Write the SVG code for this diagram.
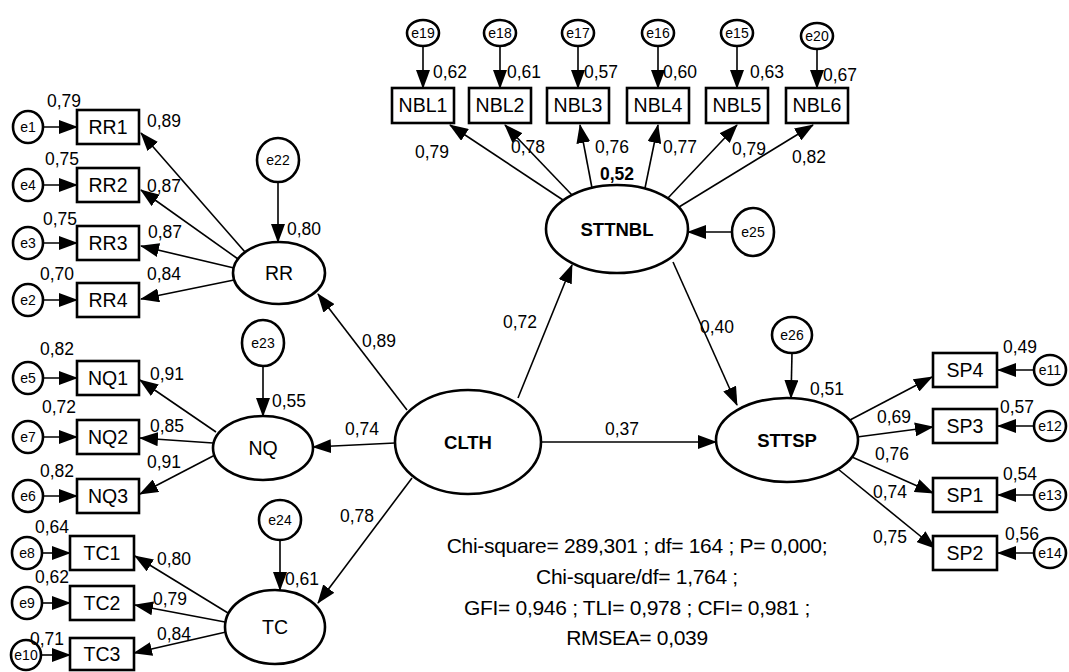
<svg xmlns="http://www.w3.org/2000/svg" width="1069" height="672" viewBox="0 0 1069 672">
<style>
text{font-family:"Liberation Sans",Arial,sans-serif;fill:#000}
.lb{font-size:17.5px}
.bx{font-size:19.5px;text-anchor:middle}
.ev{font-size:14px;text-anchor:middle}
.lv{font-size:19.5px;text-anchor:middle}
.lvb{font-size:18.5px;font-weight:bold;text-anchor:middle}
.st{font-size:21px;text-anchor:middle;letter-spacing:-0.3px}
rect{fill:#fff;stroke:#000;stroke-width:2.6}
ellipse{fill:#fff;stroke:#000;stroke-width:2.6}
.c line{stroke:#000;stroke-width:1.6;marker-end:url(#ah)}
</style>
<defs>
<marker id="ah" markerWidth="19" markerHeight="14" refX="18" refY="7" orient="auto" markerUnits="userSpaceOnUse"><path d="M0,0 L19,7 L0,14 z" fill="#000"/></marker>
</defs>
<rect x="0" y="0" width="1069" height="672" style="stroke:none;fill:#fff"/>
<g class="c" id="connectors">
<line x1="43" y1="127" x2="77" y2="127"/>
<line x1="43" y1="185" x2="77" y2="185"/>
<line x1="43" y1="243" x2="77" y2="243"/>
<line x1="43" y1="300" x2="77" y2="300"/>
<line x1="43" y1="378" x2="77" y2="378"/>
<line x1="43" y1="437" x2="77" y2="437"/>
<line x1="43" y1="496" x2="77" y2="496"/>
<line x1="42" y1="553" x2="70" y2="553"/>
<line x1="42" y1="603" x2="70" y2="603"/>
<line x1="42" y1="655" x2="70" y2="655"/>
<line x1="245" y1="252" x2="141" y2="133"/>
<line x1="238" y1="259" x2="141" y2="190"/>
<line x1="234" y1="268" x2="141" y2="246"/>
<line x1="234" y1="280" x2="141" y2="299"/>
<line x1="216" y1="432" x2="140" y2="380"/>
<line x1="213" y1="443" x2="140" y2="438"/>
<line x1="215" y1="455" x2="140" y2="494"/>
<line x1="228" y1="613" x2="135" y2="556"/>
<line x1="225" y1="622" x2="135" y2="605"/>
<line x1="226" y1="632" x2="134" y2="653"/>
<line x1="278" y1="182" x2="278" y2="242"/>
<line x1="263" y1="366" x2="263" y2="416"/>
<line x1="280" y1="540" x2="280" y2="590"/>
<line x1="407" y1="410" x2="318" y2="294"/>
<line x1="395" y1="443" x2="313" y2="447"/>
<line x1="412" y1="478" x2="318" y2="603"/>
<line x1="518" y1="398" x2="572" y2="265"/>
<line x1="541" y1="442" x2="716" y2="442"/>
<line x1="673" y1="262" x2="737" y2="405"/>
<line x1="732" y1="232" x2="688" y2="232"/>
<line x1="792" y1="353" x2="791" y2="398"/>
<line x1="563" y1="200" x2="450" y2="125"/>
<line x1="572" y1="195" x2="505" y2="125"/>
<line x1="592" y1="188" x2="580" y2="125"/>
<line x1="645" y1="188" x2="658" y2="125"/>
<line x1="668" y1="198" x2="737" y2="125"/>
<line x1="679" y1="207" x2="813" y2="125"/>
<line x1="423" y1="46" x2="423" y2="88"/>
<line x1="500" y1="46" x2="500" y2="88"/>
<line x1="578" y1="46" x2="578" y2="88"/>
<line x1="658" y1="46" x2="658" y2="88"/>
<line x1="737" y1="46" x2="737" y2="88"/>
<line x1="817" y1="49" x2="817" y2="88"/>
<line x1="850" y1="420" x2="932" y2="377"/>
<line x1="857" y1="437" x2="933" y2="427"/>
<line x1="852" y1="457" x2="933" y2="493"/>
<line x1="838" y1="469" x2="935" y2="548"/>
<line x1="1034" y1="370" x2="998" y2="370"/>
<line x1="1034" y1="426" x2="998" y2="426"/>
<line x1="1034" y1="495" x2="998" y2="495"/>
<line x1="1034" y1="553" x2="998" y2="553"/>
</g>
<g id="RR1"><rect x="77" y="110" width="62" height="34"/><text class="bx" x="108" y="134">RR1</text></g>
<g id="RR2"><rect x="77" y="168" width="62" height="34"/><text class="bx" x="108" y="192">RR2</text></g>
<g id="RR3"><rect x="77" y="226" width="62" height="34"/><text class="bx" x="108" y="250">RR3</text></g>
<g id="RR4"><rect x="77" y="283" width="62" height="34"/><text class="bx" x="108" y="307">RR4</text></g>
<g id="NQ1"><rect x="77" y="361" width="62" height="34"/><text class="bx" x="108" y="385">NQ1</text></g>
<g id="NQ2"><rect x="77" y="420" width="62" height="34"/><text class="bx" x="108" y="444">NQ2</text></g>
<g id="NQ3"><rect x="77" y="479" width="62" height="34"/><text class="bx" x="108" y="503">NQ3</text></g>
<g id="TC1"><rect x="70" y="536" width="64" height="34"/><text class="bx" x="102" y="560">TC1</text></g>
<g id="TC2"><rect x="70" y="586" width="64" height="34"/><text class="bx" x="102" y="610">TC2</text></g>
<g id="TC3"><rect x="70" y="638" width="64" height="32"/><text class="bx" x="102" y="661">TC3</text></g>
<g id="e1"><ellipse cx="28" cy="127" rx="15" ry="16"/><text class="ev" x="28" y="132">e1</text></g>
<g id="e4"><ellipse cx="28" cy="185" rx="15" ry="16"/><text class="ev" x="28" y="190">e4</text></g>
<g id="e3"><ellipse cx="28" cy="243" rx="15" ry="16"/><text class="ev" x="28" y="248">e3</text></g>
<g id="e2"><ellipse cx="28" cy="300" rx="15" ry="16"/><text class="ev" x="28" y="305">e2</text></g>
<g id="e5"><ellipse cx="28" cy="378" rx="15" ry="16"/><text class="ev" x="28" y="383">e5</text></g>
<g id="e7"><ellipse cx="28" cy="437" rx="15" ry="16"/><text class="ev" x="28" y="442">e7</text></g>
<g id="e6"><ellipse cx="28" cy="496" rx="15" ry="16"/><text class="ev" x="28" y="501">e6</text></g>
<g id="e8"><ellipse cx="27" cy="553" rx="15" ry="16"/><text class="ev" x="27" y="558">e8</text></g>
<g id="e9"><ellipse cx="27" cy="603" rx="15" ry="16"/><text class="ev" x="27" y="608">e9</text></g>
<g id="e10"><ellipse cx="26" cy="655" rx="15" ry="15"/><text class="ev" x="26" y="660">e10</text></g>
<g id="RR"><ellipse cx="279" cy="273" rx="46" ry="31"/><text class="lv" x="279" y="280">RR</text></g>
<g id="NQ"><ellipse cx="263" cy="448" rx="50" ry="32"/><text class="lv" x="263" y="455">NQ</text></g>
<g id="TC"><ellipse cx="275" cy="627" rx="50" ry="37"/><text class="lv" x="275" y="634">TC</text></g>
<g id="e22"><ellipse cx="278" cy="160" rx="21" ry="22"/><text class="ev" x="278" y="165">e22</text></g>
<g id="e23"><ellipse cx="263" cy="343" rx="21" ry="23"/><text class="ev" x="263" y="348">e23</text></g>
<g id="e24"><ellipse cx="280" cy="520" rx="21" ry="20"/><text class="ev" x="280" y="525">e24</text></g>
<g id="CLTH"><ellipse cx="468" cy="442" rx="73" ry="52"/><text class="lvb" x="468" y="449">CLTH</text></g>
<g id="STTNBL"><ellipse cx="617" cy="229" rx="71" ry="44"/><text class="lvb" x="617" y="236">STTNBL</text></g>
<g id="STTSP"><ellipse cx="787" cy="440" rx="71" ry="42"/><text class="lvb" x="787" y="447">STTSP</text></g>
<g id="e25"><ellipse cx="753" cy="232" rx="21" ry="24"/><text class="ev" x="753" y="237">e25</text></g>
<g id="e26"><ellipse cx="792" cy="335" rx="20" ry="18"/><text class="ev" x="792" y="340">e26</text></g>
<g id="NBL1"><rect x="392" y="88" width="62" height="35"/><text class="bx" x="423" y="112">NBL1</text></g>
<g id="NBL2"><rect x="469" y="88" width="62" height="35"/><text class="bx" x="500" y="112">NBL2</text></g>
<g id="NBL3"><rect x="547" y="88" width="62" height="35"/><text class="bx" x="578" y="112">NBL3</text></g>
<g id="NBL4"><rect x="627" y="88" width="62" height="35"/><text class="bx" x="658" y="112">NBL4</text></g>
<g id="NBL5"><rect x="706" y="88" width="62" height="35"/><text class="bx" x="737" y="112">NBL5</text></g>
<g id="NBL6"><rect x="786" y="88" width="62" height="35"/><text class="bx" x="817" y="112">NBL6</text></g>
<g id="e19"><ellipse cx="423" cy="33" rx="16" ry="13"/><text class="ev" x="423" y="38">e19</text></g>
<g id="e18"><ellipse cx="500" cy="33" rx="16" ry="13"/><text class="ev" x="500" y="38">e18</text></g>
<g id="e17"><ellipse cx="578" cy="33" rx="16" ry="13"/><text class="ev" x="578" y="38">e17</text></g>
<g id="e16"><ellipse cx="658" cy="33" rx="16" ry="13"/><text class="ev" x="658" y="38">e16</text></g>
<g id="e15"><ellipse cx="737" cy="33" rx="16" ry="13"/><text class="ev" x="737" y="38">e15</text></g>
<g id="e20"><ellipse cx="817" cy="36" rx="16" ry="13"/><text class="ev" x="817" y="41">e20</text></g>
<g id="SP4"><rect x="933" y="353" width="64" height="34"/><text class="bx" x="965" y="377">SP4</text></g>
<g id="SP3"><rect x="933" y="409" width="64" height="34"/><text class="bx" x="965" y="433">SP3</text></g>
<g id="SP1"><rect x="933" y="478" width="64" height="34"/><text class="bx" x="965" y="502">SP1</text></g>
<g id="SP2"><rect x="933" y="536" width="64" height="34"/><text class="bx" x="965" y="560">SP2</text></g>
<g id="e11"><ellipse cx="1050" cy="370" rx="16" ry="15"/><text class="ev" x="1050" y="375">e11</text></g>
<g id="e12"><ellipse cx="1050" cy="426" rx="16" ry="15"/><text class="ev" x="1050" y="431">e12</text></g>
<g id="e13"><ellipse cx="1050" cy="495" rx="16" ry="15"/><text class="ev" x="1050" y="500">e13</text></g>
<g id="e14"><ellipse cx="1050" cy="553" rx="16" ry="15"/><text class="ev" x="1050" y="558">e14</text></g>
<g id="labels" class="lb">
<text x="47" y="107">0,79</text><text x="45" y="165">0,75</text><text x="43" y="225">0,75</text><text x="40" y="280">0,70</text>
<text x="40" y="355">0,82</text><text x="42" y="413">0,72</text><text x="40" y="477">0,82</text>
<text x="35" y="533">0,64</text><text x="35" y="583">0,62</text><text x="30" y="645">0,71</text>
<text x="147" y="127">0,89</text><text x="147" y="192">0,87</text><text x="148" y="238">0,87</text><text x="147" y="280">0,84</text>
<text x="150" y="380">0,91</text><text x="150" y="432">0,85</text><text x="147" y="468">0,91</text>
<text x="157" y="565">0,80</text><text x="153" y="605">0,79</text><text x="157" y="640">0,84</text>
<text x="287" y="235">0,80</text><text x="272" y="407">0,55</text><text x="285" y="585">0,61</text>
<text x="362" y="347">0,89</text><text x="345" y="435">0,74</text><text x="340" y="522">0,78</text>
<text x="503" y="328">0,72</text><text x="605" y="435">0,37</text><text x="700" y="333">0,40</text><text x="810" y="395">0,51</text>
<text x="433" y="78">0,62</text><text x="507" y="78">0,61</text><text x="584" y="78">0,57</text><text x="663" y="78">0,60</text><text x="750" y="78">0,63</text><text x="823" y="81">0,67</text>
<text x="415" y="158">0,79</text><text x="511" y="153">0,78</text><text x="595" y="153">0,76</text><text x="663" y="153">0,77</text><text x="732" y="155">0,79</text><text x="792" y="163">0,82</text>
<text x="600" y="180" font-weight="bold">0,52</text>
<text x="877" y="423">0,69</text><text x="875" y="460">0,76</text><text x="873" y="498">0,74</text><text x="873" y="543">0,75</text>
<text x="1003" y="353">0,49</text><text x="1000" y="413">0,57</text><text x="1003" y="480">0,54</text><text x="1005" y="540">0,56</text>
</g>
<g id="fit" class="st">
<text x="637" y="553">Chi-square= 289,301 ; df= 164 ; P= 0,000;</text>
<text x="637" y="584">Chi-square/df= 1,764 ;</text>
<text x="637" y="615">GFI= 0,946 ; TLI= 0,978 ; CFI= 0,981 ;</text>
<text x="637" y="645">RMSEA= 0,039</text>
</g>
</svg>
